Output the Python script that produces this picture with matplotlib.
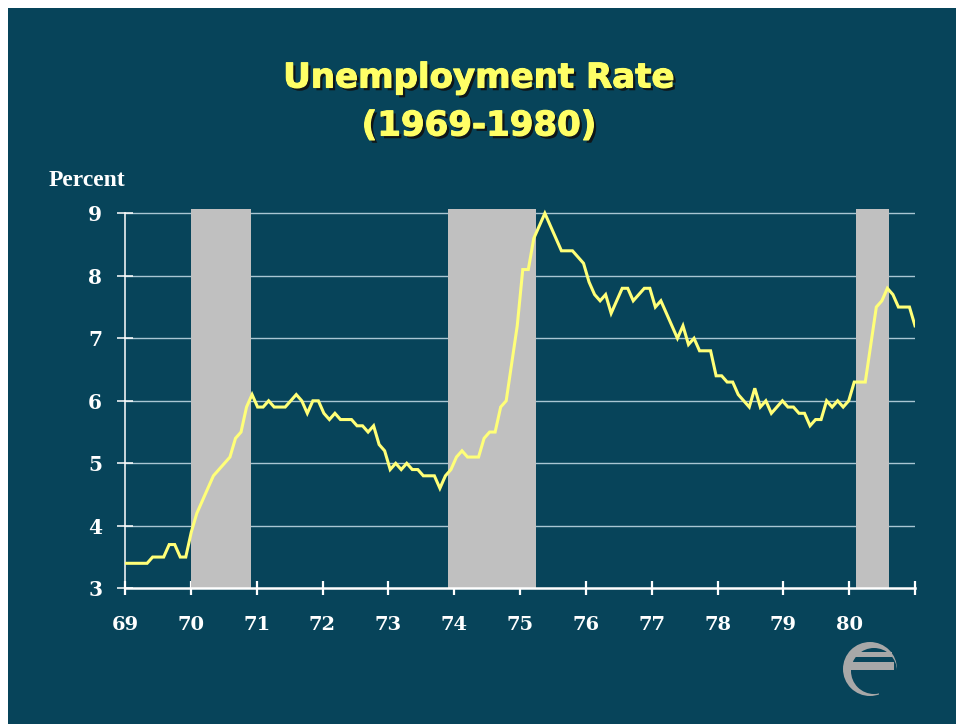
import numpy as np
import matplotlib
matplotlib.use("Agg")
import matplotlib.pyplot as plt
from matplotlib.patches import Rectangle, Circle
import matplotlib.patheffects as pe

# Monthly unemployment rate, Jan 1969 - Dec 1980 (percent)
rate_1969 = [3.4, 3.4, 3.4, 3.4, 3.4, 3.5, 3.5, 3.5, 3.7, 3.7, 3.5, 3.5]
rate_1970 = [3.9, 4.2, 4.4, 4.6, 4.8, 4.9, 5.0, 5.1, 5.4, 5.5, 5.9, 6.1]
rate_1971 = [5.9, 5.9, 6.0, 5.9, 5.9, 5.9, 6.0, 6.1, 6.0, 5.8, 6.0, 6.0]
rate_1972 = [5.8, 5.7, 5.8, 5.7, 5.7, 5.7, 5.6, 5.6, 5.5, 5.6, 5.3, 5.2]
rate_1973 = [4.9, 5.0, 4.9, 5.0, 4.9, 4.9, 4.8, 4.8, 4.8, 4.6, 4.8, 4.9]
rate_1974 = [5.1, 5.2, 5.1, 5.1, 5.1, 5.4, 5.5, 5.5, 5.9, 6.0, 6.6, 7.2]
rate_1975 = [8.1, 8.1, 8.6, 8.8, 9.0, 8.8, 8.6, 8.4, 8.4, 8.4, 8.3, 8.2]
rate_1976 = [7.9, 7.7, 7.6, 7.7, 7.4, 7.6, 7.8, 7.8, 7.6, 7.7, 7.8, 7.8]
rate_1977 = [7.5, 7.6, 7.4, 7.2, 7.0, 7.2, 6.9, 7.0, 6.8, 6.8, 6.8, 6.4]
rate_1978 = [6.4, 6.3, 6.3, 6.1, 6.0, 5.9, 6.2, 5.9, 6.0, 5.8, 5.9, 6.0]
rate_1979 = [5.9, 5.9, 5.8, 5.8, 5.6, 5.7, 5.7, 6.0, 5.9, 6.0, 5.9, 6.0]
rate_1980 = [6.3, 6.3, 6.3, 6.9, 7.5, 7.6, 7.8, 7.7, 7.5, 7.5, 7.5, 7.2]

# Recession periods (start, end) in years since 1900
recession_start = [70.0, 73.91, 80.10]
recession_end = [70.91, 75.25, 80.60]

x_ticks = list(range(69, 82))
x_labels = ["69", "70", "71", "72", "73", "74", "75", "76", "77", "78", "79", "80", ""]
y_ticks = [3, 4, 5, 6, 7, 8, 9]
y_labels = ["3", "4", "5", "6", "7", "8", "9"]

rates = (rate_1969 + rate_1970 + rate_1971 + rate_1972 + rate_1973 + rate_1974 +
         rate_1975 + rate_1976 + rate_1977 + rate_1978 + rate_1979 + rate_1980)
n = len(rates)
xs = 69 + np.arange(n) * 12.0 / (n - 1)

BG = "#07445a"
W, H = 956, 724
fig = plt.figure(figsize=(W / 100, H / 100), dpi=100, facecolor=BG)
# white strips at top and left
fig.patches.append(Rectangle((0, 1 - 8 / H), 1, 8 / H, transform=fig.transFigure,
                             facecolor="white", edgecolor="none", zorder=-1))
fig.patches.append(Rectangle((0, 0), 8 / W, 1, transform=fig.transFigure,
                             facecolor="white", edgecolor="none", zorder=-1))

left, right = 125 / W, 915 / W
y9 = 213.3
y3 = 588.3
per = (y3 - y9) / 6
ytop = 9.07
top_px = y9 - (ytop - 9) * per
ax = fig.add_axes([left, 1 - y3 / H, right - left, (y3 - top_px) / H])
ax.set_facecolor("none")
ax.set_xlim(69, 81)
ax.set_ylim(3, ytop)

# gridlines
for yv in y_ticks[1:]:
    ax.plot([69, 81], [yv, yv], color="#a9c6d3", lw=1.0, zorder=1, solid_capstyle="butt")

# recession shading
for s, e in zip(recession_start, recession_end):
    ax.add_patch(Rectangle((s, 3), e - s, ytop - 3, facecolor="#c0c0c0",
                           edgecolor="none", zorder=2))

ax.plot(xs, rates, color="#ffff78", lw=2.2, zorder=4, solid_joinstyle="miter")

for sp in ["top", "right"]:
    ax.spines[sp].set_visible(False)
ax.spines["left"].set_color("white")
ax.spines["left"].set_linewidth(1.1)
ax.spines["left"].set_bounds(3, 9)
ax.spines["bottom"].set_color("white")
ax.spines["bottom"].set_linewidth(1.8)
ax.spines["bottom"].set_zorder(5)

tickfont = ["DejaVu Serif"]
ax.set_xticks(x_ticks)
ax.set_xticklabels(x_labels, fontsize=14, fontweight="bold", color="white", family=tickfont)
ax.set_yticks(y_ticks)
ax.set_yticklabels(y_labels, fontsize=14.5, fontweight="bold", color="white", family=tickfont)
ax.tick_params(axis="x", direction="inout", length=10, width=1.6, color="white", pad=15)
ax.tick_params(axis="y", direction="inout", length=12, width=1.1, color="white", pad=10.4)

fig.text(49 / W, 1 - 181 / H, "Percent", fontsize=17, fontweight="bold", color="white",
         family=["Liberation Serif", "DejaVu Serif"], ha="left", va="center")

t1 = fig.text(479 / W, 1 - 78 / H, "Unemployment Rate", fontsize=24.5, fontweight="bold",
              color="#ffff66", ha="center", va="center", family=["DejaVu Sans"])
t2 = fig.text(479 / W, 1 - 126 / H, "(1969-1980)", fontsize=24.5, fontweight="bold",
              color="#ffff66", ha="center", va="center", family=["DejaVu Sans"])
for t in (t1, t2):
    t.set_path_effects([pe.SimplePatchShadow(offset=(2, -2), shadow_rgbFace="#111111", alpha=0.9),
                        pe.Stroke(linewidth=0.8, foreground="#ffff66"),
                        pe.Normal()])

# logo (approximation)
lax = fig.add_axes([838 / W, 1 - 701 / H, 64 / W, 64 / H])
lax.set_xlim(-32, 32)
lax.set_ylim(-32, 32)
lax.set_aspect("equal")
lax.axis("off")
gray = "#a8a8a8"
lax.add_patch(Circle((0, 0), 27, facecolor=gray, edgecolor="none"))
lax.add_patch(Circle((4, -2), 23, facecolor=BG, edgecolor="none"))
lax.add_patch(Rectangle((-22, -1), 46, 8, facecolor=gray, edgecolor="none"))
lax.add_patch(Rectangle((-18, 12), 40, 5, facecolor=gray, edgecolor="none"))
lax.add_patch(Rectangle((9, -32), 25, 31, facecolor=BG, edgecolor="none"))

fig.savefig("out.png", dpi=100, facecolor=BG)
